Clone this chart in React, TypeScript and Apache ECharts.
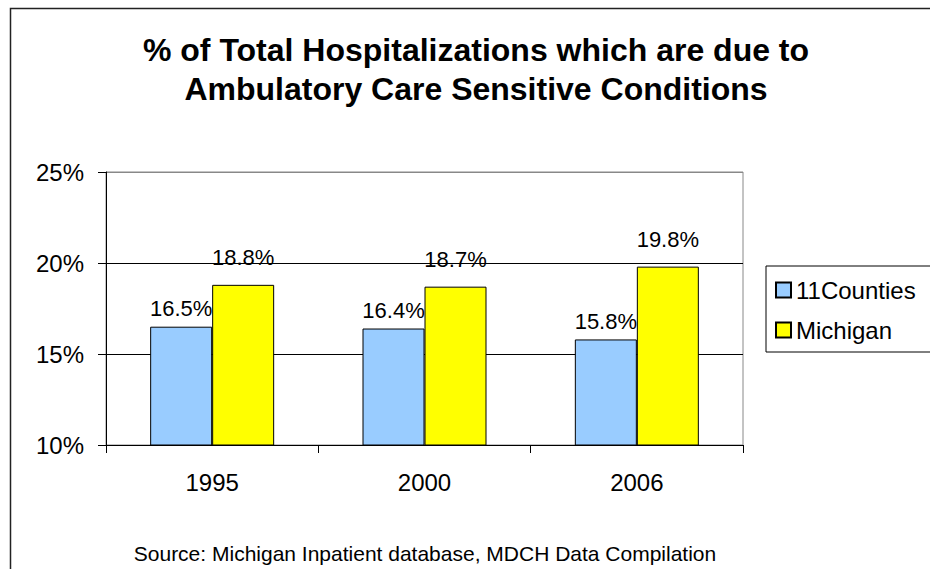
import React, { useEffect, useRef } from "react";
import * as echarts from "echarts";

const categories = ["1995", "2000", "2006"];
const countiesValues = [16.5, 16.4, 15.8];
const michiganValues = [18.8, 18.7, 19.8];
const seriesNames = ["11Counties", "Michigan"];
const titleLines = [
  "% of Total Hospitalizations which are due to",
  "Ambulatory Care Sensitive Conditions",
];
const sourceText = "Source: Michigan Inpatient database, MDCH Data Compilation";

const FONT = "'Liberation Sans', Arial, sans-serif";

export default function App() {
  const ref = useRef<HTMLDivElement>(null);
  useEffect(() => {
    if (!ref.current) return;
    const chart = echarts.init(ref.current, null, { renderer: "svg" });
    const labelStyle = (distance: number) => ({
      show: true,
      position: "top",
      distance,
      formatter: "{c}%",
      fontSize: 22,
      color: "#000",
      fontFamily: FONT,
    });
    chart.setOption({
      animation: false,
      backgroundColor: "#fff",
      textStyle: { fontFamily: FONT },
      grid: {
        left: 106,
        top: 172,
        width: 637,
        height: 273,
        show: true,
        borderColor: "#888",
        borderWidth: 1,
        backgroundColor: "transparent",
      },
      legend: {
        orient: "vertical",
        left: 766,
        top: 266,
        data: seriesNames,
        icon: "rect",
        itemWidth: 15,
        itemHeight: 15,
        itemGap: 16,
        padding: [12, 30, 10, 9],
        borderColor: "#000",
        borderWidth: 1,
        textStyle: { fontSize: 24, lineHeight: 24, color: "#000", fontFamily: FONT },
      },
      xAxis: {
        type: "category",
        data: categories,
        axisLine: { lineStyle: { color: "#000", width: 1 } },
        axisTick: { show: true, length: 8, alignWithLabel: false, lineStyle: { color: "#000" } },
        axisLabel: { fontSize: 24, color: "#000", margin: 25, fontFamily: FONT },
      },
      yAxis: {
        type: "value",
        min: 10,
        max: 25,
        interval: 5,
        axisLine: { show: true, lineStyle: { color: "#000", width: 1 } },
        axisTick: { show: true, length: 8, lineStyle: { color: "#000" } },
        axisLabel: { formatter: "{value}%", fontSize: 24, color: "#000", margin: 22, fontFamily: FONT },
        splitLine: { show: true, lineStyle: { color: ["#000", "#000", "#000", "#888"], width: 1 } },
      },
      series: [
        {
          name: seriesNames[0],
          type: "bar",
          data: countiesValues,
          barWidth: 62,
          barGap: "0%",
          itemStyle: { color: "#99CCFF", borderColor: "#000", borderWidth: 1 },
          label: labelStyle(7),
        },
        {
          name: seriesNames[1],
          type: "bar",
          data: michiganValues,
          barWidth: 62,
          barGap: "0%",
          itemStyle: { color: "#FFFF00", borderColor: "#000", borderWidth: 1 },
          label: labelStyle(16),
        },
      ],
      graphic: [
        {
          type: "rect",
          shape: { x: 10.5, y: 8.5, width: 1000, height: 1000 },
          style: { fill: "none", stroke: "#222", lineWidth: 1.5 },
          silent: true,
        },
        {
          type: "text",
          x: 476,
          y: 69,
          style: {
            text: titleLines.join("\n"),
            fontSize: 32,
            fontWeight: "bold",
            fontFamily: FONT,
            lineHeight: 39,
            fill: "#000",
            align: "center",
            verticalAlign: "middle",
          },
        },
        {
          type: "text",
          x: 425,
          y: 553,
          style: {
            text: sourceText,
            fontSize: 21,
            fontFamily: FONT,
            fill: "#000",
            align: "center",
            verticalAlign: "middle",
          },
        },
      ],
    });
    return () => chart.dispose();
  }, []);
  return (
    <div
      ref={ref}
      style={{ position: "fixed", left: 0, top: 0, width: 930, height: 569 }}
    />
  );
}
